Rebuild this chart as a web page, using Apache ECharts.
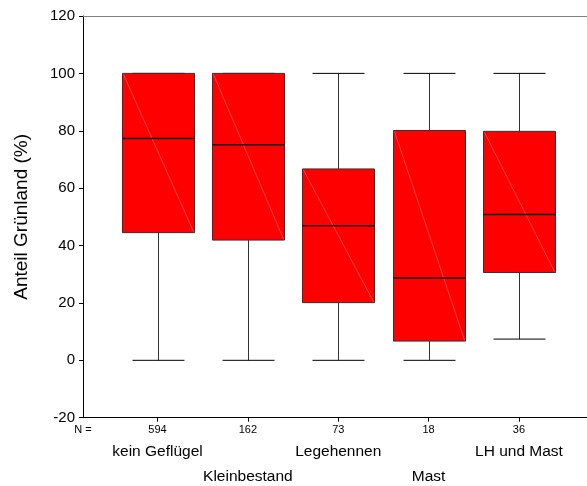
<!DOCTYPE html>
<html>
<head>
<meta charset="utf-8">
<script src="https://cdn.jsdelivr.net/npm/echarts@6/dist/echarts.min.js"></script>
<style>html,body{margin:0;padding:0;background:#fff}#c{width:587px;height:486px}</style>
</head>
<body>
<div id="c"></div>
<script>
const categories = ['kein Geflügel', 'Kleinbestand', 'Legehennen', 'Mast', 'LH und Mast'];
const nValues = [594, 162, 73, 18, 36];
const minVals = [0, 0, 0, 0, 7.4];
const q1Vals = [44.5, 41.9, 20.1, 6.7, 30.6];
const medianVals = [77.3, 75.1, 46.9, 28.7, 50.8];
const q3Vals = [100, 100, 66.7, 80.1, 79.8];
const maxVals = [100, 100, 100, 100, 100];
const yTicks = [-20, 0, 20, 40, 60, 80, 100, 120];

const X_MIN = -0.825, X_MAX = 4.753;
const FONT = '"Liberation Sans", Arial, sans-serif';

const boxData = categories.map((c, i) => [i, minVals[i], q1Vals[i], medianVals[i], q3Vals[i], maxVals[i]]);

const chart = echarts.init(document.getElementById('c'), null, {renderer: 'canvas'});
chart.setOption({
  animation: false,
  backgroundColor: '#fff',
  textStyle: {fontFamily: FONT},
  grid: {left: 83, right: 0, top: 16, bottom: 68.3, containLabel: false},
  xAxis: [{
    type: 'value', min: X_MIN, max: X_MAX, position: 'bottom',
    splitLine: {show: false},
    axisLine: {show: true, onZero: false, lineStyle: {color: '#000', width: 1}},
    axisTick: {show: true, customValues: [0, 1, 2, 3, 4], length: 4, lineStyle: {color: '#000'}},
    axisLabel: {
      customValues: [X_MIN, 0, 1, 2, 3, 4], margin: 2, color: '#000', fontFamily: FONT,
      formatter: function (v) {
        if (v < -0.5) return '{n|N =}';
        const i = Math.round(v);
        if (i % 2 === 0) return '{n|' + nValues[i] + '}\n{a|' + categories[i] + '}\n{a| }';
        return '{n|' + nValues[i] + '}\n{a| }\n{a|' + categories[i] + '}';
      },
      rich: {
        n: {fontSize: 11, lineHeight: 20, color: '#000', fontFamily: FONT},
        a: {fontSize: 15.5, lineHeight: 25, color: '#000', fontFamily: FONT}
      }
    }
  }, {
    type: 'value', min: X_MIN, max: X_MAX, position: 'top',
    splitLine: {show: false},
    axisLine: {show: true, onZero: false, lineStyle: {color: '#808080', width: 1.2}},
    axisTick: {show: false}, axisLabel: {show: false}
  }],
  yAxis: {
    type: 'value', min: -20, max: 120, interval: 20, position: 'left',
    name: 'Anteil Grünland (%)', nameLocation: 'middle', nameGap: 52,
    nameTextStyle: {fontSize: 19, color: '#000', fontFamily: FONT},
    splitLine: {show: false},
    axisLine: {show: true, onZero: false, lineStyle: {color: '#000', width: 1}},
    axisTick: {show: true, length: 4, lineStyle: {color: '#000'}},
    axisLabel: {fontSize: 15, color: '#000', margin: 8, fontFamily: FONT,
      formatter: function (v) { return yTicks.indexOf(v) >= 0 ? String(v) : ''; }}
  },
  series: [{
    type: 'custom',
    xAxisIndex: 0,
    data: boxData,
    renderItem: function (params, api) {
      const x = api.value(0);
      const unit = api.size([1, 0])[0];
      const bw = unit * 0.797, cw = unit * 0.575;
      const pMin = api.coord([x, api.value(1)]);
      const pQ1 = api.coord([x, api.value(2)]);
      const pMed = api.coord([x, api.value(3)]);
      const pQ3 = api.coord([x, api.value(4)]);
      const pMax = api.coord([x, api.value(5)]);
      const cx = Math.round(pMin[0]) + 0.5;
      const lw = {stroke: '#333', lineWidth: 1};
      const left = cx - bw / 2, right = cx + bw / 2;
      return {
        type: 'group',
        children: [
          {type: 'line', shape: {x1: cx, y1: pMin[1], x2: cx, y2: pQ1[1]}, style: lw},
          {type: 'line', shape: {x1: cx, y1: pQ3[1], x2: cx, y2: pMax[1]}, style: lw},
          {type: 'line', shape: {x1: cx - cw / 2, y1: pMin[1], x2: cx + cw / 2, y2: pMin[1]}, style: {stroke: '#000', lineWidth: 1}},
          {type: 'line', shape: {x1: cx - cw / 2, y1: pMax[1], x2: cx + cw / 2, y2: pMax[1]}, style: {stroke: '#000', lineWidth: 1}},
          {type: 'rect', shape: {x: left, y: pQ3[1], width: bw, height: pQ1[1] - pQ3[1]},
            style: {fill: '#ff0000', stroke: '#333', lineWidth: 1}},
          {type: 'line', shape: {x1: left + 1, y1: pQ3[1] + 1, x2: right - 1, y2: pQ1[1] - 1},
            style: {stroke: 'rgba(255,170,170,0.7)', lineWidth: 0.6}},
          {type: 'line', shape: {x1: left, y1: pMed[1], x2: right, y2: pMed[1]}, style: {stroke: '#111', lineWidth: 1.5}}
        ]
      };
    }
  }]
});
</script>
</body>
</html>
